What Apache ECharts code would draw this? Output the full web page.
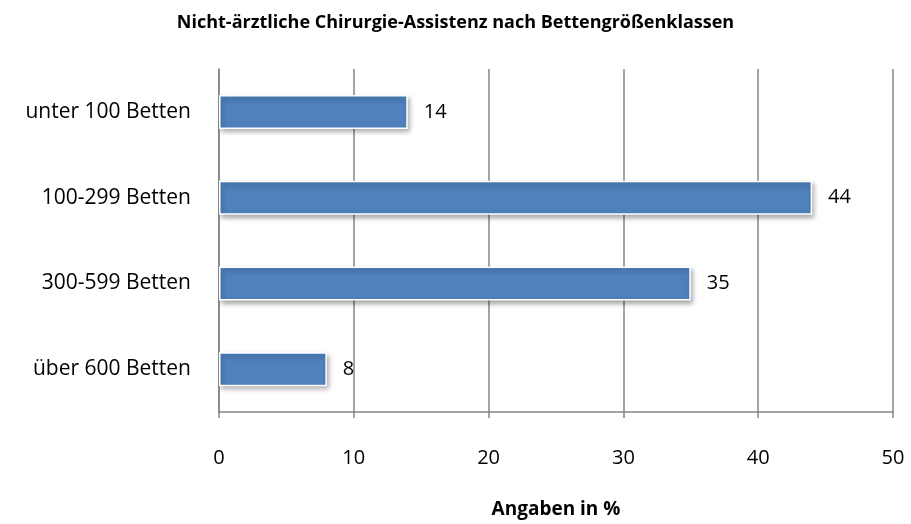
<!DOCTYPE html>
<html>
<head>
<meta charset="utf-8">
<script src="https://cdn.jsdelivr.net/npm/echarts@6/dist/echarts.min.js"></script>
<style>
  html, body { margin: 0; padding: 0; background: #fff; }
  #chart { width: 911px; height: 524px; }
</style>
</head>
<body>
<div id="chart"></div>
<script>
const categories = ["unter 100 Betten", "100-299 Betten", "300-599 Betten", "über 600 Betten"];
const values = [14, 44, 35, 8];

const font = "'Open Sans', 'Liberation Sans', sans-serif";
const chart = echarts.init(document.getElementById("chart"));

chart.setOption({
  animation: false,
  title: {
    text: "Nicht-ärztliche Chirurgie-Assistenz nach Bettengrößenklassen",
    left: "center",
    top: 9,
    textStyle: { fontFamily: font, fontSize: 18, fontWeight: "bold", color: "#000" },
  },
  grid: { left: 219, right: 18, top: 69, bottom: 109, containLabel: false },
  xAxis: {
    type: "value",
    min: 0,
    max: 50,
    interval: 10,
    name: "Angaben in %",
    nameLocation: "middle",
    nameGap: 88,
    nameTextStyle: { fontFamily: font, fontSize: 19, fontWeight: "bold", color: "#000" },
    axisLine: { show: true, lineStyle: { color: "#868686", width: 1.5 } },
    axisTick: { show: true, length: 6, lineStyle: { color: "#868686", width: 1.5 } },
    axisLabel: { fontFamily: font, fontSize: 20, color: "#000", margin: 36 },
    splitLine: { show: true, lineStyle: { color: "#868686", width: 1.5 } },
  },
  yAxis: {
    type: "category",
    data: categories,
    inverse: true,
    axisLine: { show: true, lineStyle: { color: "#868686", width: 1.5 } },
    axisTick: { show: false },
    axisLabel: { fontFamily: font, fontSize: 21, color: "#000", margin: 28 },
  },
  series: [
    {
      type: "bar",
      data: values,
      barWidth: 34,
      itemStyle: {
        color: "#4F81BD",
        borderColor: "#fff",
        borderWidth: 1.5,
        shadowColor: "rgba(0,0,0,0.35)",
        shadowBlur: 5,
        shadowOffsetX: 2,
        shadowOffsetY: 3,
      },
      label: {
        show: true,
        position: "right",
        distance: 16,
        fontFamily: font,
        fontSize: 20,
        color: "#000",
      },
    },
  ],
});
</script>
</body>
</html>
